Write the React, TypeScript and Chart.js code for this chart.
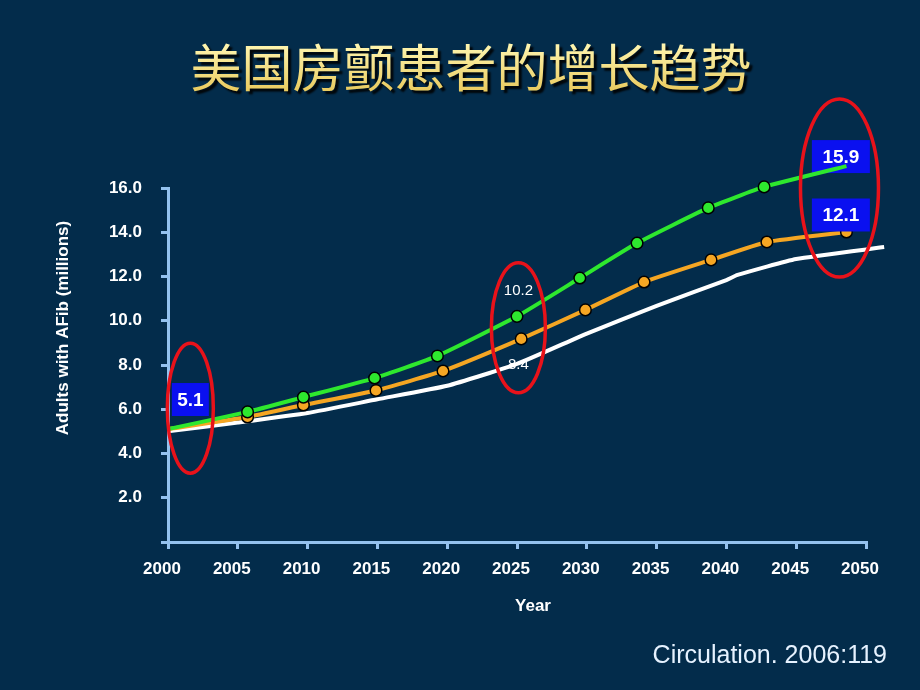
import React, { useEffect, useRef } from 'react';
import { Chart, registerables } from 'chart.js';

Chart.register(...registerables);

// ---- text ----
const titleText = '美国房颤患者的增长趋势';
const sourceText = 'Circulation. 2006:119';
const yAxisTitle = 'Adults with AFib (millions)';
const xAxisTitle = 'Year';

// ---- ticks ----
const xTicks = [2000, 2005, 2010, 2015, 2020, 2025, 2030, 2035, 2040, 2045, 2050];
const yTicks = [0, 2, 4, 6, 8, 10, 12, 14, 16];

// ---- series ----
const greenYears = [2000, 2005.7, 2009.7, 2014.8, 2019.3, 2025.0, 2029.5, 2033.6, 2038.7, 2042.7, 2048.6];
const greenValues = [5.1, 5.88, 6.55, 7.41, 8.41, 10.2, 11.93, 13.51, 15.1, 16.05, 16.99];

const orangeYears = [2000, 2005.7, 2009.7, 2014.9, 2019.7, 2025.3, 2029.9, 2034.1, 2038.9, 2042.9, 2048.6];
const orangeValues = [5.1, 5.65, 6.19, 6.85, 7.73, 9.18, 10.49, 11.75, 12.75, 13.56, 14.01];

const whiteYears = [2000, 2005, 2010, 2015, 2020, 2025, 2030, 2035, 2040, 2040.8, 2045, 2051.3];
const whiteValues = [5.0, 5.4, 5.83, 6.45, 7.06, 8.05, 9.42, 10.67, 11.84, 12.07, 12.79, 13.33];

// ---- annotations (data coordinates) ----
const ellipseYears = [2001.6, 2025.1, 2048.1];
const ellipseValues = [6.05, 9.68, 16.0];
const boxTexts = ['5.1', '15.9', '12.1'];
const boxYears = [2001.6, 2048.2, 2048.2];
const boxValues = [6.44, 17.42, 14.78];
const plainTexts = ['10.2', '8.4'];
const plainYears = [2025.1, 2025.1];
const plainValues = [11.34, 8.0];

// ---- styles ----
const BG = '#032c4b';
const AXIS = '#94c2ee';
const GREEN = '#2ee82e';
const ORANGE = '#f5a623';
const WHITE = '#ffffff';
const RED = '#e8121a';
const BLUE = '#0a10f0';
const FONT = 'Arial, "Liberation Sans", sans-serif';
const ellipseRadii = [[23, 65], [27, 65], [39, 89]];
const boxSizes = [[37, 33], [58, 33], [58, 33]];
const boxBehindLines = [false, true, false];

const toPts = (xs: number[], ys: number[]) => xs.map((x, i) => ({ x, y: ys[i] }));

export default function App() {
  const ref = useRef<HTMLCanvasElement | null>(null);

  useEffect(() => {
    document.body.style.margin = '0';
    document.body.style.background = BG;
    const canvas = ref.current;
    if (!canvas) return;

    const drawBox = (chart: any, i: number) => {
      const ctx = chart.ctx;
      const xs = chart.scales.x;
      const ys = chart.scales.y;
      const cx = xs.getPixelForValue(boxYears[i]);
      const cy = ys.getPixelForValue(boxValues[i]);
      const [w, h] = boxSizes[i];
      ctx.save();
      ctx.fillStyle = BLUE;
      ctx.fillRect(cx - w / 2, cy - h / 2, w, h);
      ctx.fillStyle = '#ffffff';
      ctx.font = `bold 19px ${FONT}`;
      ctx.textAlign = 'center';
      ctx.textBaseline = 'middle';
      ctx.fillText(boxTexts[i], cx, cy + 1);
      ctx.restore();
    };

    const deco = {
      id: 'deco',
      beforeDraw(chart: any) {
        const ctx = chart.ctx;
        ctx.save();
        ctx.fillStyle = BG;
        ctx.fillRect(0, 0, chart.width, chart.height);
        ctx.restore();
      },
      beforeDatasetsDraw(chart: any) {
        boxTexts.forEach((_, i) => { if (boxBehindLines[i]) drawBox(chart, i); });
      },
      afterDatasetsDraw(chart: any) {
        const ctx = chart.ctx;
        const xs = chart.scales.x;
        const ys = chart.scales.y;
        boxTexts.forEach((_, i) => { if (!boxBehindLines[i]) drawBox(chart, i); });
        ctx.save();
        ctx.strokeStyle = RED;
        ctx.lineWidth = 3.5;
        ellipseYears.forEach((yr, i) => {
          const cx = xs.getPixelForValue(yr);
          const cy = ys.getPixelForValue(ellipseValues[i]);
          ctx.beginPath();
          ctx.ellipse(cx, cy, ellipseRadii[i][0], ellipseRadii[i][1], 0, 0, Math.PI * 2);
          ctx.stroke();
        });
        ctx.fillStyle = '#ffffff';
        ctx.font = `15px ${FONT}`;
        ctx.textAlign = 'center';
        ctx.textBaseline = 'middle';
        plainTexts.forEach((t, i) => {
          ctx.fillText(t, xs.getPixelForValue(plainYears[i]), ys.getPixelForValue(plainValues[i]));
        });
        ctx.restore();
      },
      afterDraw(chart: any) {
        const ctx = chart.ctx;
        ctx.save();
        // title
        ctx.font = `400 51px "Noto Sans CJK SC", sans-serif`;
        ctx.textAlign = 'center';
        ctx.textBaseline = 'middle';
        const g = ctx.createLinearGradient(0, 44, 0, 94);
        g.addColorStop(0, '#fff6b0');
        g.addColorStop(1, '#e8c85a');
        ctx.shadowColor = 'rgba(0,0,0,0.9)';
        ctx.shadowOffsetX = 3;
        ctx.shadowOffsetY = 3;
        ctx.shadowBlur = 2;
        ctx.fillStyle = g;
        ctx.fillText(titleText, 471, 68);
        ctx.shadowColor = 'transparent';
        // axis titles
        ctx.fillStyle = '#ffffff';
        ctx.font = `bold 17px ${FONT}`;
        ctx.fillText(xAxisTitle, 533, 606);
        ctx.save();
        ctx.translate(63, 328);
        ctx.rotate(-Math.PI / 2);
        ctx.fillText(yAxisTitle, 0, 0);
        ctx.restore();
        // source
        ctx.fillStyle = '#e6f2ff';
        ctx.font = `25px ${FONT}`;
        ctx.textAlign = 'right';
        ctx.fillText(sourceText, 887, 656);
        ctx.restore();
      },
    };

    const pointR = (ctx: any) => (ctx.dataIndex === 0 ? 0 : 5.8);

    const chart = new Chart(canvas, {
      type: 'line',
      data: {
        datasets: [
          {
            data: toPts(greenYears, greenValues),
            borderColor: GREEN,
            backgroundColor: GREEN,
            borderWidth: 4,
            pointRadius: pointR,
            pointBackgroundColor: GREEN,
            pointBorderColor: '#000000',
            pointBorderWidth: 1.5,
            tension: 0.15,
            clip: false as any,
          },
          {
            data: toPts(orangeYears, orangeValues),
            borderColor: ORANGE,
            backgroundColor: ORANGE,
            borderWidth: 4,
            pointRadius: pointR,
            pointBackgroundColor: ORANGE,
            pointBorderColor: '#000000',
            pointBorderWidth: 1.5,
            tension: 0.15,
            clip: false as any,
          },
          {
            data: toPts(whiteYears, whiteValues),
            borderColor: WHITE,
            backgroundColor: WHITE,
            borderWidth: 4,
            pointRadius: 0,
            tension: 0.15,
            clip: false as any,
          },
        ],
      },
      options: {
        animation: false,
        responsive: false,
        maintainAspectRatio: false,
        layout: { padding: { top: 188, right: 54, left: 0, bottom: 0 } },
        plugins: {
          legend: { display: false },
          tooltip: { enabled: false },
          title: { display: false },
        },
        scales: {
          x: {
            type: 'linear',
            min: 2000,
            max: 2050,
            afterFit: (s: any) => { s.height = 148; },
            afterBuildTicks: (s: any) => { s.ticks = xTicks.map((v) => ({ value: v })); },
            grid: { drawOnChartArea: false, drawTicks: true, tickLength: 7, color: AXIS, lineWidth: 3 },
            border: { display: true, color: AXIS, width: 3 },
            ticks: {
              color: '#ffffff',
              font: { family: FONT, size: 17, weight: 'bold' },
              padding: 10,
              labelOffset: -6,
              maxRotation: 0,
              autoSkip: false,
              callback: (v: any) => String(v),
            },
          },
          y: {
            type: 'linear',
            min: 0,
            max: 16,
            afterFit: (s: any) => { s.width = 168; },
            afterBuildTicks: (s: any) => { s.ticks = yTicks.map((v) => ({ value: v })); },
            grid: { drawOnChartArea: false, drawTicks: true, tickLength: 7, color: AXIS, lineWidth: 3 },
            border: { display: true, color: AXIS, width: 3 },
            ticks: {
              color: '#ffffff',
              font: { family: FONT, size: 17, weight: 'bold' },
              padding: 19,
              autoSkip: false,
              callback: (v: any) => (Number(v) === 0 ? '' : Number(v).toFixed(1)),
            },
          },
        },
      } as any,
      plugins: [deco],
    });

    return () => chart.destroy();
  }, []);

  return <canvas ref={ref} width={920} height={690} style={{ display: 'block', width: 920, height: 690 }} />;
}
